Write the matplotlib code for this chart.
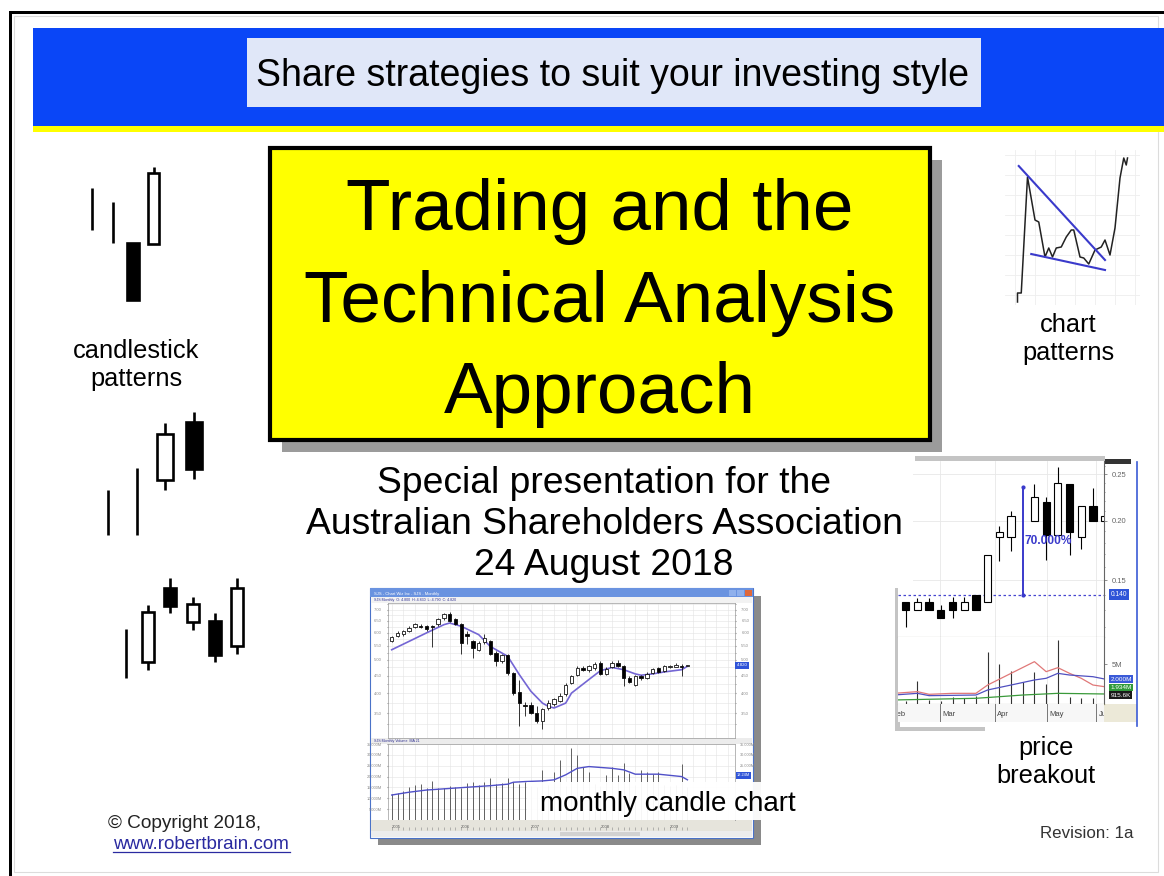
import numpy as np
import matplotlib.pyplot as plt
from matplotlib.patches import Rectangle
from matplotlib.ticker import FixedLocator, NullFormatter, FormatStrFormatter

plt.rcParams['font.family'] = ['Liberation Sans', 'DejaVu Sans']
nan = np.nan

# candlestick pattern sketches (nan open/close = plain range bar)
pat1_open = [nan, nan, 6.7, 6.6]
pat1_high = [12.2, 10.8, 6.7, 14.3]
pat1_low = [8.0, 6.7, 1.0, 6.6]
pat1_close = [nan, nan, 1.0, 13.7]

pat2_open = [nan, nan, 6.5, 12.3]
pat2_high = [5.5, 7.7, 12.2, 13.3]
pat2_low = [1.0, 1.0, 5.5, 6.6]
pat2_close = [nan, nan, 11.1, 7.6]

pat3_open = [nan, 2.8, 10.2, 6.8, 6.9, 4.4]
pat3_high = [6.1, 8.5, 11.2, 9.3, 7.7, 11.2]
pat3_low = [1.2, 2.0, 7.7, 6.0, 2.8, 3.6]
pat3_close = [nan, 7.8, 8.4, 8.6, 3.5, 10.2]

# chart pattern sketch: falling wedge and breakout
wedge_day = [1, 1, 2.5, 5, 8, 9.5, 12, 13.5, 15, 16.5, 18.5, 20.5, 22.5, 23.5,
             26, 27.5, 29.5, 32, 34.5, 36, 38, 40, 42, 43.5, 44.5, 45]
wedge_price = [1.5, 6, 6, 64, 42.5, 41.5, 24, 28.5, 24, 28.5, 29, 34, 37.5, 37.5,
               24, 23.5, 20.5, 27.5, 29, 32.5, 25, 38.5, 63.5, 73.5, 70, 73.5]
upper_day, upper_price = [1.5, 36], [69.5, 22.5]
lower_day, lower_price = [6.5, 36], [25.5, 17.5]

# monthly candle chart
m_open = [5.67, 5.86, 5.93, 6.06, 6.23, 6.28, 6.27, 6.27, 6.34, 6.60, 6.81, 6.56, 6.34,
          5.95, 5.66, 5.35, 5.64, 5.66, 5.23, 4.95, 5.15, 4.58, 4.03, 3.70, 3.70, 3.51,
          3.32, 3.62, 3.73, 3.80, 3.97, 4.28, 4.52, 4.74, 4.66, 4.72, 4.90, 4.56, 4.77,
          4.90, 4.80, 4.44, 4.22, 4.49, 4.44, 4.59, 4.72, 4.65, 4.75, 4.78, 4.81, 4.80]
m_high = [5.88, 6.05, 6.12, 6.26, 6.40, 6.36, 6.33, 6.33, 6.62, 6.85, 6.89, 6.62, 6.40,
          6.08, 5.72, 5.66, 5.95, 5.72, 5.29, 5.19, 5.19, 4.62, 4.38, 3.78, 3.76, 3.66,
          3.62, 3.83, 3.87, 4.00, 4.28, 4.53, 4.79, 4.80, 4.84, 4.92, 4.95, 4.75, 4.95,
          5.01, 4.84, 4.48, 4.53, 4.53, 4.60, 4.73, 4.78, 4.84, 4.84, 4.88, 4.85, 4.83]
m_low = [5.64, 5.81, 5.88, 6.02, 6.19, 6.19, 6.08, 5.45, 6.26, 6.55, 6.45, 6.30, 5.19,
         5.56, 5.05, 5.29, 5.56, 5.16, 4.79, 4.89, 4.53, 3.96, 3.20, 3.43, 3.48, 3.28,
         3.14, 3.56, 3.66, 3.78, 3.91, 4.25, 4.48, 4.63, 4.61, 4.68, 4.52, 4.52, 4.73,
         4.76, 4.20, 4.28, 4.19, 4.38, 4.41, 4.55, 4.59, 4.61, 4.72, 4.75, 4.49, 4.79]
m_close = [5.82, 6.00, 6.06, 6.20, 6.34, 6.24, 6.13, 6.23, 6.56, 6.78, 6.49, 6.34, 5.61,
           5.88, 5.41, 5.60, 5.79, 5.20, 4.95, 5.15, 4.58, 4.00, 3.74, 3.67, 3.51, 3.32,
           3.59, 3.75, 3.84, 3.92, 4.22, 4.49, 4.74, 4.66, 4.80, 4.87, 4.56, 4.71, 4.90,
           4.80, 4.44, 4.32, 4.49, 4.42, 4.56, 4.69, 4.62, 4.80, 4.80, 4.83, 4.78, 4.82]
m_ma_idx = [0, 3, 6, 9, 10, 12, 15, 17, 20, 22, 24, 26, 27, 28, 30, 31, 34, 36, 38, 40,
            42, 43, 45, 47, 50, 51]
m_ma_val = [5.35, 5.66, 5.99, 6.33, 6.40, 6.26, 5.92, 5.47, 5.12, 4.53, 4.05, 3.74, 3.66,
            3.62, 3.74, 4.00, 4.38, 4.65, 4.75, 4.68, 4.55, 4.51, 4.55, 4.61, 4.68, 4.79]
m_volume = [11.8, 12.3, 13.4, 15.4, 16.2, 16.5, 14.9, 18.0, 14.6, 14.9, 15.8, 15.4, 14.9,
            16.9, 17.7, 16.2, 17.4, 19.2, 16.5, 16.9, 19.5, 17.7, 16.5, 17.4, 15.5, 15.0,
            23.1, 16.0, 22.3, 27.7, 15.5, 33.1, 30.0, 24.2, 22.3, 16.5, 15.5, 20.8, 24.2,
            20.5, 26.2, 21.5, 16.0, 23.1, 22.3, 21.1, 22.0, 16.0, 15.5, 16.0, 25.7, 15.0]
m_vma_idx = [0, 3, 6, 12, 17, 20, 21, 23, 26, 28, 30, 32, 34, 36, 38, 40, 42, 46, 50, 51]
m_vma_val = [11.5, 12.8, 13.8, 14.9, 15.8, 16.5, 17.4, 17.7, 18.0, 18.5, 20.8, 23.8, 24.6,
             24.2, 23.8, 23.1, 21.1, 21.1, 20.0, 18.5]
m_years = ['2005', '2006', '2007', '2008', '2009']

# price breakout chart (daily bars, slot 10 carries the measuring line)
pb_slot = [0, 1, 2, 3, 4, 5, 6, 7, 8, 9, 11, 12, 13, 14, 15, 16, 17]
pb_open = [0.1352, 0.1303, 0.1352, 0.1303, 0.1352, 0.1303, 0.1396, 0.1352, 0.1852,
           0.1846, 0.1994, 0.2191, 0.1870, 0.2386, 0.1852, 0.2149, 0.2000]
pb_high = [0.1352, 0.1380, 0.1380, 0.1330, 0.1385, 0.1385, 0.1396, 0.1699, 0.1953,
           0.2098, 0.2388, 0.2237, 0.2595, 0.2386, 0.2149, 0.2346, 0.2049]
pb_low = [0.1199, 0.1303, 0.1303, 0.1252, 0.1249, 0.1303, 0.1303, 0.1352, 0.1643,
          0.1732, 0.1994, 0.1651, 0.1870, 0.1699, 0.1746, 0.2000, 0.1900]
pb_close = [0.1299, 0.1352, 0.1303, 0.1252, 0.1303, 0.1352, 0.1303, 0.1699, 0.1897,
            0.2049, 0.2244, 0.1870, 0.2396, 0.1897, 0.2149, 0.2000, 0.2049]
pb_base, pb_target = 0.140, 0.2358
pb_vol = [0.4, 2.9, 0.5, 0.4, 0.9, 0.8, 1.0, 6.6, 5.0, 4.2, 2.8, 4.1, 2.5, 8.0, 0.95, 0.75, 0.75]
red_idx = [-1, 1, 2, 4, 6, 7, 9, 11, 12, 13, 14, 15, 16, 17]
red_val = [1.37, 1.58, 1.25, 1.37, 1.37, 2.41, 3.87, 5.33, 4.08, 4.58, 3.87, 3.25, 2.41, 2.2]
blue_idx = [-1, 1, 2, 6, 7, 9, 11, 12, 13, 14, 16, 17]
blue_val = [1.16, 1.37, 1.08, 1.16, 1.79, 2.41, 3.04, 3.25, 3.87, 3.66, 3.45, 3.16]
green_idx = [-1, 6, 8, 10, 13, 17]
green_val = [0.54, 0.75, 0.95, 1.16, 1.37, 1.29]
pb_months = ['Feb', 'Mar', 'Apr', 'May', 'Jun']
pb_month_start = [-1.3, 2.93, 7.63, 12.05, 16.3]

W, H = 1164, 876
fig = plt.figure(figsize=(W / 100, H / 100), dpi=100)

bg = fig.add_axes([0, 0, 1, 1], zorder=0)
fg = fig.add_axes([0, 0, 1, 1], zorder=20)
for a in (bg, fg):
    a.set_xlim(0, W)
    a.set_ylim(H, 0)
    a.axis('off')


def rect(ax, x0, y0, x1, y1, **kw):
    kw.setdefault('lw', 0)
    ax.add_patch(Rectangle((x0, y0), x1 - x0, y1 - y0, **kw))


def inset(x0, y0, x1, y1, z=2):
    return fig.add_axes([x0 / W, 1 - y1 / H, (x1 - x0) / W, (y1 - y0) / H], zorder=z)


def draw_candles(ax, xs, o, h, l, c, width, lw):
    for x, op, hi, lo, cl in zip(xs, o, h, l, c):
        if np.isnan(op):
            ax.vlines(x, lo, hi, color='black', lw=lw, zorder=3)
            continue
        top, bot = max(op, cl), min(op, cl)
        ax.vlines(x, top, hi, color='black', lw=lw, zorder=3)
        ax.vlines(x, lo, bot, color='black', lw=lw, zorder=3)
        fc = 'black' if cl < op else 'white'
        ax.add_patch(Rectangle((x - width / 2, bot), width, top - bot,
                               fc=fc, ec='black', lw=lw, zorder=4))


# slide frame and banner
rect(bg, 9, 11, W + 5, 14, fc='black')
rect(bg, 9, 11, 12, H + 5, fc='black')
rect(bg, 14, 16, 1158, 872, fc='none', ec='#dcdcdc', lw=0.8)
rect(bg, 33, 28, W + 5, 126, fc='#0a46f7')
rect(bg, 33, 126, W + 5, 132, fc='#ffff00')
rect(bg, 247, 38, 981, 107, fc='#e0e7f8')

# title box
rect(bg, 282, 160, 942, 452, fc='#9b9b9b')
rect(bg, 270, 148, 930, 440, fc='#ffff00', ec='black', lw=3)

# monthly chart window chrome
rect(bg, 378, 596, 761, 845, fc='#8a8a8a')
rect(bg, 370, 588, 753, 838, fc='white', ec='#4a72c8', lw=0.8)
rect(bg, 370, 588, 753, 597, fc='#6a93e0')
rect(bg, 729, 589.5, 736, 596, fc='#8fb0ec')
rect(bg, 737, 589.5, 744, 596, fc='#8fb0ec')
rect(bg, 745, 589.5, 752, 596, fc='#e0683a')
bg.text(374, 593.5, 'SJS - Chart Wiz Inc - SJS - Monthly', fontsize=3, color='white', va='center')
rect(bg, 371, 597, 752, 603, fc='#f2f2f2')
bg.text(374, 600, 'SJS Monthly  O: 4.800  H: 4.830  L: 4.790  C: 4.820', fontsize=2.6, color='#303090', va='center')
rect(bg, 371, 738, 752, 744, fc='#ececec')
bg.text(374, 741, 'SJS Monthly Volume  MA 21', fontsize=2.6, color='#303090', va='center')
rect(bg, 371, 820, 752, 831, fc='#e6e4dc')
rect(bg, 371, 831, 752, 837, fc='#ededed')
rect(bg, 560, 832, 640, 836, fc='#d2d2d2')

# price breakout frame
rect(bg, 915, 456, 1105, 461, fc='#c4c4c4')
rect(bg, 895, 588, 900, 731, fc='#c4c4c4')
rect(bg, 895, 727, 985, 731, fc='#c4c4c4')
rect(bg, 1104, 704, 1137, 722, fc='#ece9d8')
rect(bg, 1105, 459, 1131, 464, fc='#333333')
bg.plot([1137, 1137], [462, 726], color='#3b5bd6', lw=1.2)

# left candlestick patterns
for box, xl, yl, o, h, l, c, wd in [
        ((81.75, 160, 163.75, 310), (-0.5, 3.5), (0, 15), pat1_open, pat1_high, pat1_low, pat1_close, 0.54),
        ((93.6, 400, 208.4, 545), (-0.5, 3.5), (0, 14.5), pat2_open, pat2_high, pat2_low, pat2_close, 0.56),
        ((114.9, 570, 248.1, 690), (-0.5, 5.5), (0, 12), pat3_open, pat3_high, pat3_low, pat3_close, 0.54)]:
    ax = inset(*box)
    draw_candles(ax, np.arange(len(o)), o, h, l, c, wd, 1.9)
    ax.set_xlim(*xl)
    ax.set_ylim(*yl)
    ax.axis('off')

# chart pattern sketch
ax = inset(1005, 150, 1140, 305)
ax.plot(wedge_day, wedge_price, color='#222222', lw=1.1)
ax.plot(upper_day, upper_price, color='#3a3acb', lw=1.5)
ax.plot(lower_day, lower_price, color='#3a3acb', lw=1.5)
ax.set_xlim(-4, 50)
ax.set_ylim(0, 77.5)
ax.set_xticks(np.arange(0, 50, 8))
ax.set_yticks(np.arange(5, 80, 10))
ax.grid(color='#eeeeee', lw=0.6)
ax.tick_params(length=0, labelbottom=False, labelleft=False)
for s in ax.spines.values():
    s.set_visible(False)

# price breakout: price panel
pa = inset(898, 461, 1104.3, 636.7, z=3)
pa.set_yscale('log')
draw_candles(pa, pb_slot, pb_open, pb_high, pb_low, pb_close, 0.62, 0.8)
pa.set_xlim(-0.66, 16.97)
pa.set_ylim(0.1143, 0.2667)
pa.yaxis.set_major_locator(FixedLocator([0.15, 0.20, 0.25]))
pa.yaxis.set_major_formatter(FormatStrFormatter('%.2f'))
pa.yaxis.set_minor_locator(FixedLocator(np.arange(0.12, 0.265, 0.01)))
pa.yaxis.set_minor_formatter(NullFormatter())
pa.yaxis.tick_right()
pa.tick_params(axis='y', which='both', labelsize=5.5, colors='#666666', length=2, width=0.5)
pa.tick_params(axis='y', which='minor', length=1)
pa.set_xticks([])
for yv in [0.15, 0.20, 0.25]:
    pa.axhline(yv, color='#e8e8e8', lw=0.6, zorder=0)
for xv in pb_month_start[1:]:
    pa.axvline(xv, color='#e8e8e8', lw=0.6, zorder=0)
pa.spines['top'].set_visible(False)
pa.spines['left'].set_visible(False)
pa.spines['right'].set_color('#666666')
pa.spines['bottom'].set_color('#8a8a70')
pa.axhline(pb_base, color='#4646d0', ls=(0, (2, 2)), lw=0.9, zorder=2)
pa.plot([10, 10], [pb_base, pb_target], color='#3a3acb', lw=1.4, zorder=5)
pa.plot([10, 10], [pb_base, pb_target], 'o', color='#3a3acb', ms=2, zorder=5)
pa.text(10.15, 0.1817, '70.000%', color='#3a3acb', fontsize=8.6, fontweight='bold', va='center', zorder=6)
pa.annotate('0.140', xy=(1.03, pb_base), xycoords=('axes fraction', 'data'), fontsize=4.8,
            color='white', va='center', annotation_clip=False,
            bbox=dict(boxstyle='square,pad=0.25', fc='#2f54d8', ec='none'))
pa.set_facecolor('white')

# price breakout: volume panel
pv = inset(898, 636.7, 1104.3, 704.3, z=3)
pv.vlines(np.arange(len(pb_vol)), 0, pb_vol, color='#333333', lw=0.8)
pv.plot(red_idx, red_val, color='#e07878', lw=0.9)
pv.plot(blue_idx, blue_val, color='#5050c0', lw=0.9)
pv.plot(green_idx, green_val, color='#3a9a3a', lw=0.9)
pv.set_xlim(-0.66, 16.97)
pv.set_ylim(0, 8.45)
pv.set_xticks([])
pv.yaxis.tick_right()
pv.set_yticks([5])
pv.set_yticklabels(['5M'])
pv.tick_params(axis='y', labelsize=5.5, colors='#666666', length=2, width=0.5)
for xv in pb_month_start[1:]:
    pv.axvline(xv, color='#e8e8e8', lw=0.6, zorder=0)
pv.spines['top'].set_visible(False)
pv.spines['left'].set_visible(False)
pv.spines['right'].set_color('#666666')
pv.spines['bottom'].set_color('#8a8a70')
for yv, txt, col in [(3.16, '2.000M', '#3a5ad8'), (2.1, '1.934M', '#2f9a3a'), (1.16, '915.6K', '#1a1a1a')]:
    pv.annotate(txt, xy=(1.03, yv), xycoords=('axes fraction', 'data'), fontsize=4.6,
                color='white', va='center', annotation_clip=False,
                bbox=dict(boxstyle='square,pad=0.2', fc=col, ec='none'))

# price breakout: date strip
pd_ = inset(898, 704.3, 1104.3, 722, z=3)
pd_.set_xlim(-0.66, 16.97)
pd_.set_ylim(0, 1)
pd_.set_facecolor('#f7f7f7')
for xs, lab in zip(pb_month_start, pb_months):
    pd_.axvline(xs, color='#777777', lw=0.7)
    pd_.text(xs + 0.2, 0.45, lab, fontsize=5.5, color='#444444', va='center', clip_on=True)
pd_.set_xticks([])
pd_.set_yticks([])
for s in pd_.spines.values():
    s.set_visible(False)

# monthly chart: price panel
mp = inset(388, 603, 735, 738, z=3)
mp.set_yscale('log')
mslots = np.arange(len(m_open))
mp.plot(m_ma_idx, m_ma_val, color='#7466d4', lw=1.2, zorder=2)
draw_candles(mp, mslots, m_open, m_high, m_low, m_close, 0.6, 0.55)
mp.set_xlim(-0.64, 59.2)
mp.set_ylim(2.96, 7.32)
mp.yaxis.set_major_locator(FixedLocator(np.arange(3.5, 7.01, 0.5)))
mp.yaxis.set_major_formatter(FormatStrFormatter('%.2f'))
mp.yaxis.set_minor_locator(FixedLocator(np.arange(3.25, 7.3, 0.5)))
mp.yaxis.set_minor_formatter(NullFormatter())
mp.set_xticks(np.arange(0, 60, 2))
mp.tick_params(axis='x', length=0, labelbottom=False)
mp.tick_params(axis='y', which='both', labelsize=3, colors='#888888', length=1,
               left=True, right=True, labelleft=True, labelright=True)
mp.grid(which='both', color='#e4e4e4', lw=0.4)
for s in mp.spines.values():
    s.set_color('#9a9a9a')
    s.set_linewidth(0.5)
mp.annotate('4.820', xy=(1.005, m_close[-1]), xycoords=('axes fraction', 'data'), fontsize=3.2,
            color='white', va='center', annotation_clip=False,
            bbox=dict(boxstyle='square,pad=0.35', fc='#2f54d8', ec='none'))

# monthly chart: volume panel (right-hand labels only above the caption box)
mv = inset(388, 744, 735, 820, z=3)
mv.vlines(mslots, 0, m_volume, color='#606060', lw=0.7)
mv.plot(m_vma_idx, m_vma_val, color='#5050c8', lw=1.0)
mv.set_xlim(-0.64, 59.2)
mv.set_ylim(0, 35)
mv.set_yticks(np.arange(5, 36, 5))
mv.set_yticklabels([f'{v}.000M' for v in range(5, 36, 5)])
mv.set_xticks(np.arange(0, 60, 2))
mv.tick_params(axis='x', length=0, labelbottom=False)
mv.tick_params(axis='y', labelsize=2.8, colors='#888888', length=1, left=True, right=True)
mv.grid(color='#e4e4e4', lw=0.4)
for s in mv.spines.values():
    s.set_color('#9a9a9a')
    s.set_linewidth(0.5)
mv2 = mv.twinx()
mv2.set_zorder(3)
mv2.set_ylim(0, 35)
mv2.set_yticks([25, 30, 35])
mv2.set_yticklabels([f'{v}.000M' for v in (25, 30, 35)])
mv2.tick_params(axis='y', labelsize=2.8, colors='#888888', length=0)
for s in mv2.spines.values():
    s.set_visible(False)
mv.annotate('18.24M', xy=(1.005, 20.5), xycoords=('axes fraction', 'data'), fontsize=2.8,
            color='white', va='center', annotation_clip=False,
            bbox=dict(boxstyle='square,pad=0.3', fc='#2f54d8', ec='none'))

# monthly chart: year strip
my = inset(388, 820, 735, 830, z=3)
my.set_xlim(-0.64, 59.2)
my.set_ylim(0, 1)
my.set_facecolor('#e6e4dc')
my.set_xticks(mslots)
my.tick_params(axis='x', length=2, width=0.4, color='#888888', labelbottom=False, direction='in')
my.set_yticks([])
for k, yr in enumerate(m_years):
    my.text(k * 12, 0.3, yr, fontsize=3, color='#555555', ha='left', va='center')
for s in my.spines.values():
    s.set_visible(False)

# white backings for overlaid captions
rect(fg, 898, 461, 913, 588, fc='white')
rect(fg, 527, 782, 801, 820, fc='white', alpha=0.95)

# texts
fg.text(613, 86, 'Share strategies to suit your investing style', ha='center', va='baseline', fontsize=27)
for yb, line in zip([230, 322, 413], ['Trading and the', 'Technical Analysis', 'Approach']):
    fg.text(600, yb, line, ha='center', va='baseline', fontsize=52.5)
for yb, line in zip([493, 534, 575], ['Special presentation for the',
                                      'Australian Shareholders Association', '24 August 2018']):
    fg.text(604, yb, line, ha='center', va='baseline', fontsize=26.8)
fg.text(136, 358, 'candlestick', ha='center', va='baseline', fontsize=18.3)
fg.text(136, 386, 'patterns', ha='center', va='baseline', fontsize=18.3)
fg.text(1068, 332, 'chart', ha='center', va='baseline', fontsize=18.3)
fg.text(1068, 360, 'patterns', ha='center', va='baseline', fontsize=18.3)
fg.text(1046, 755, 'price', ha='center', va='baseline', fontsize=18.3)
fg.text(1046, 783, 'breakout', ha='center', va='baseline', fontsize=18.3)
fg.text(540, 811, 'monthly candle chart', ha='left', va='baseline', fontsize=20)
fg.text(108, 828, '\u00a9 Copyright 2018,', ha='left', va='baseline', fontsize=13.7, color='#222222')
fg.text(113, 849, 'www.robertbrain.com', ha='left', va='baseline', fontsize=13.5, color='#2a2aa0')
fg.plot([113, 290], [852, 852], color='#2a2aa0', lw=0.9)
fg.text(1133, 838, 'Revision: 1a', ha='right', va='baseline', fontsize=12.2, color='#333333')

fig.savefig('out.png', dpi=100)
